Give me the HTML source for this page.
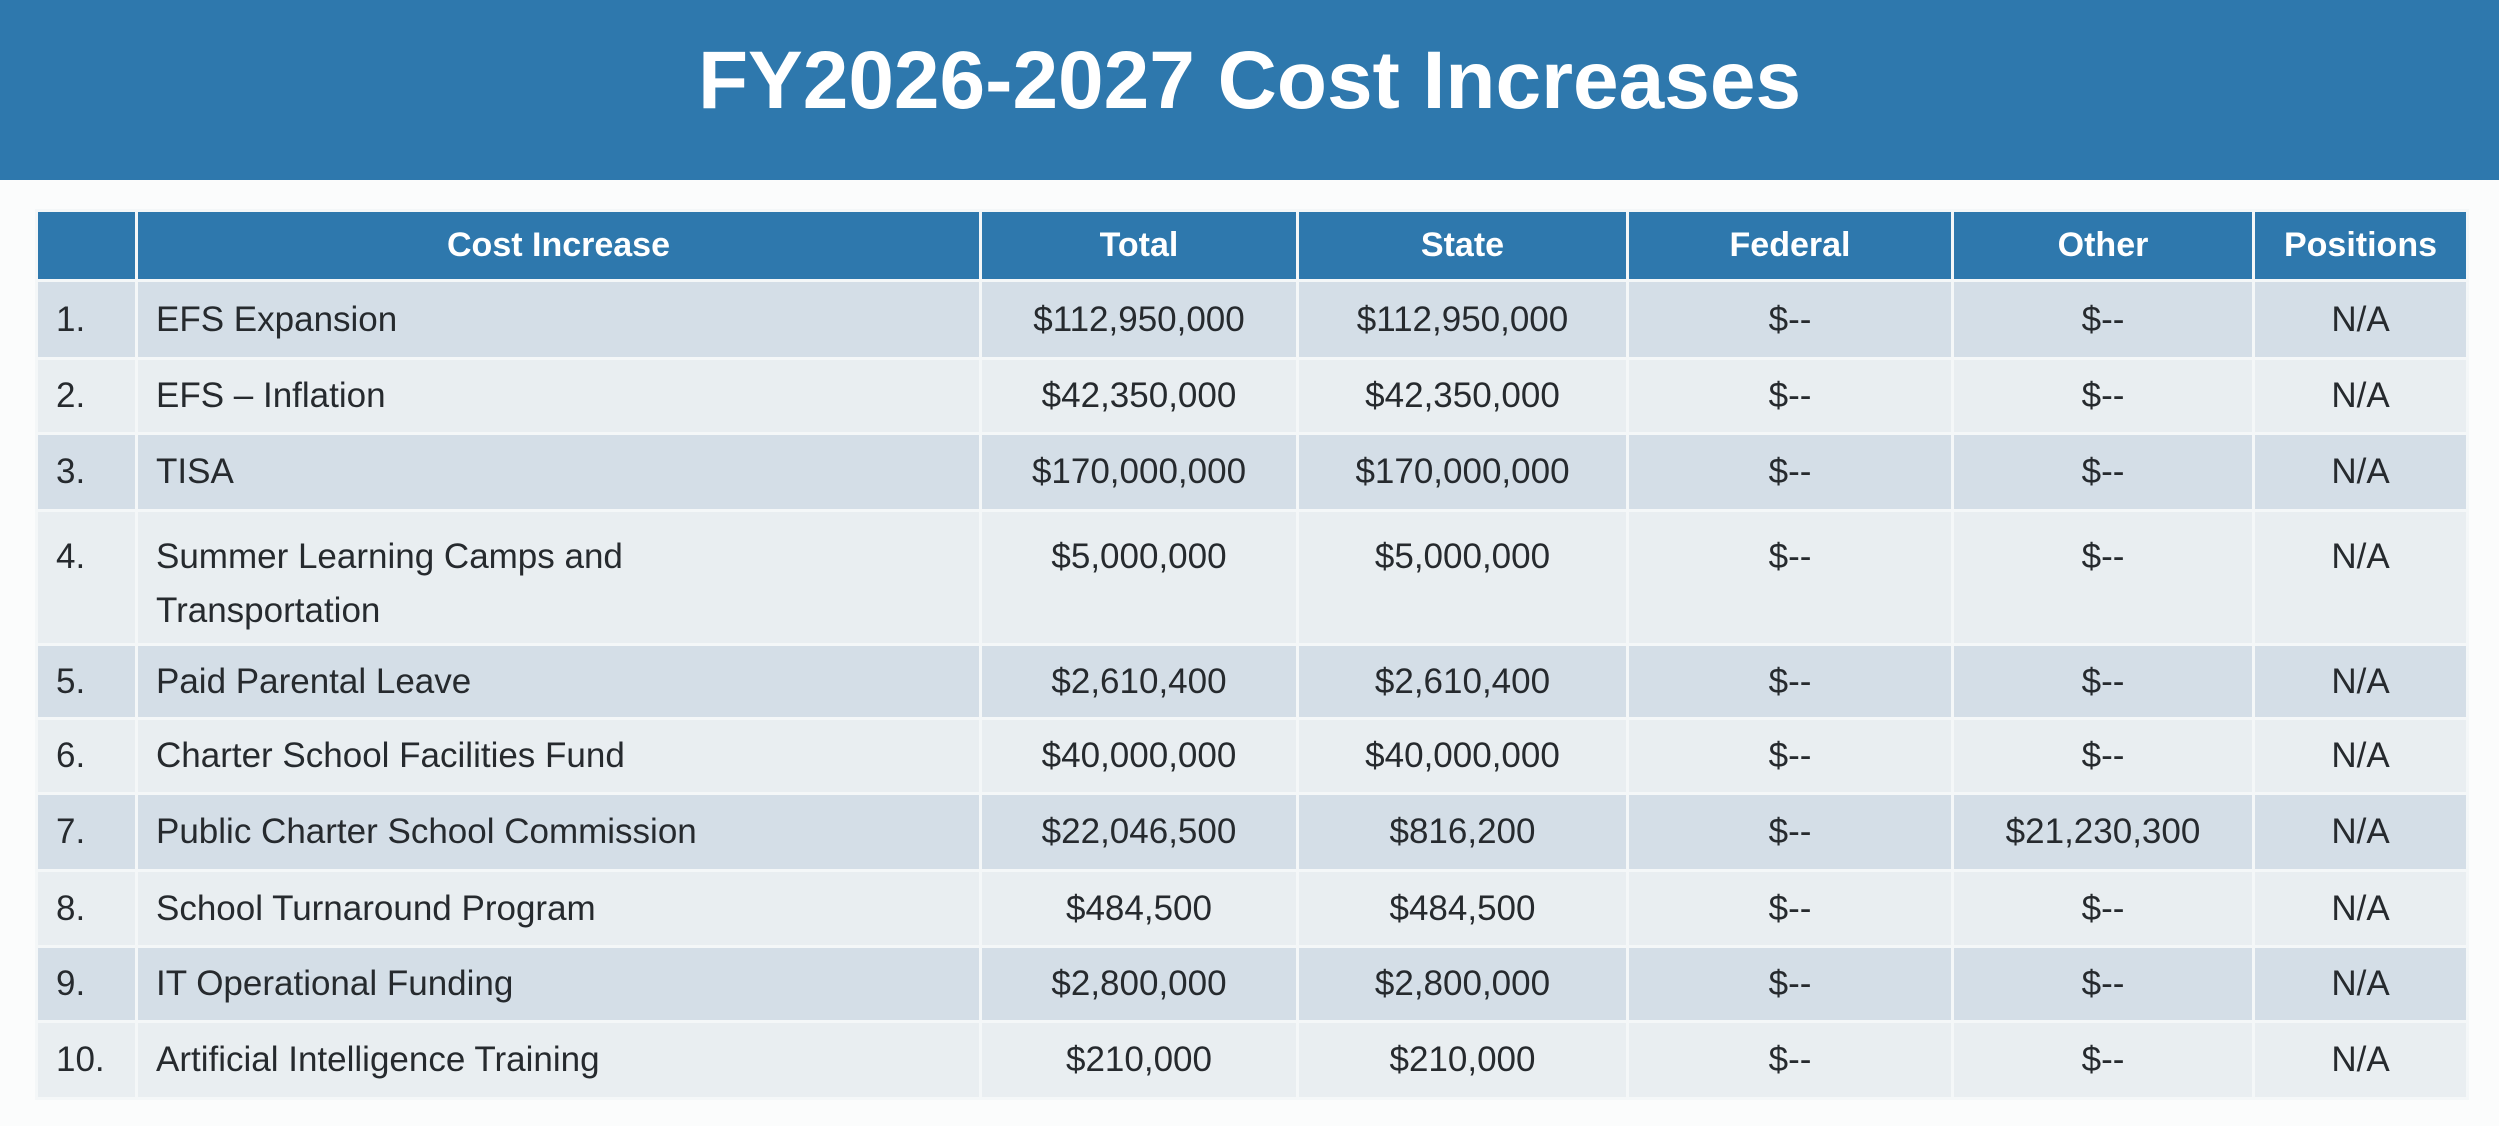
<!DOCTYPE html>
<html><head><meta charset="utf-8"><style>
html,body{margin:0;padding:0;width:2499px;height:1126px;overflow:hidden;background:#f5f7f8;font-family:"Liberation Sans",Arial,sans-serif;}
#hdr{position:absolute;left:0;top:0;width:2499px;height:180px;background:#2e78ad;}
#title{position:absolute;left:0;top:0;width:2499px;height:162px;line-height:162px;text-align:center;color:#fff;font-weight:bold;font-size:82px;}
#wrap{position:absolute;left:0;top:180px;width:2499px;height:946px;background:#fbfcfc;}
table{position:absolute;left:35px;top:209px;border-collapse:collapse;table-layout:fixed;}
td,th{border:3px solid #f4f7f8;padding:0;font-size:35px;color:#262a2e;}
th{background:#2e78ad;color:#fff;font-weight:bold;font-size:34px;text-align:center;height:67px;}
td{text-align:center;}
tr.o td{background:#d4dee7;}
tr.e td{background:#e9eef1;}
td.n{text-align:left;padding-left:18px;}
td.c{text-align:left;padding-left:18px;}
tr.tall td{vertical-align:top;padding-top:18px;line-height:54px;}
</style></head><body>
<div id="hdr"><div id="title">FY2026-2027 Cost Increases</div></div>
<div id="wrap"></div>
<table>
<colgroup><col style="width:100px"><col style="width:844px"><col style="width:317px"><col style="width:330px"><col style="width:325px"><col style="width:301px"><col style="width:214px"></colgroup>
<tr><th></th><th>Cost Increase</th><th>Total</th><th>State</th><th>Federal</th><th>Other</th><th>Positions</th></tr>
<tr class="o" style="height:78px"><td class="n">1.</td><td class="c">EFS Expansion</td><td>$112,950,000</td><td>$112,950,000</td><td>$--</td><td>$--</td><td>N/A</td></tr>
<tr class="e" style="height:75px"><td class="n">2.</td><td class="c">EFS – Inflation</td><td>$42,350,000</td><td>$42,350,000</td><td>$--</td><td>$--</td><td>N/A</td></tr>
<tr class="o" style="height:77px"><td class="n">3.</td><td class="c">TISA</td><td>$170,000,000</td><td>$170,000,000</td><td>$--</td><td>$--</td><td>N/A</td></tr>
<tr class="e tall" style="height:134px"><td class="n">4.</td><td class="c">Summer Learning Camps and<br>Transportation</td><td>$5,000,000</td><td>$5,000,000</td><td>$--</td><td>$--</td><td>N/A</td></tr>
<tr class="o" style="height:74px"><td class="n">5.</td><td class="c">Paid Parental Leave</td><td>$2,610,400</td><td>$2,610,400</td><td>$--</td><td>$--</td><td>N/A</td></tr>
<tr class="e" style="height:75px"><td class="n">6.</td><td class="c">Charter School Facilities Fund</td><td>$40,000,000</td><td>$40,000,000</td><td>$--</td><td>$--</td><td>N/A</td></tr>
<tr class="o" style="height:77px"><td class="n">7.</td><td class="c">Public Charter School Commission</td><td>$22,046,500</td><td>$816,200</td><td>$--</td><td>$21,230,300</td><td>N/A</td></tr>
<tr class="e" style="height:76px"><td class="n">8.</td><td class="c">School Turnaround Program</td><td>$484,500</td><td>$484,500</td><td>$--</td><td>$--</td><td>N/A</td></tr>
<tr class="o" style="height:75px"><td class="n">9.</td><td class="c">IT Operational Funding</td><td>$2,800,000</td><td>$2,800,000</td><td>$--</td><td>$--</td><td>N/A</td></tr>
<tr class="e" style="height:77px"><td class="n">10.</td><td class="c">Artificial Intelligence Training</td><td>$210,000</td><td>$210,000</td><td>$--</td><td>$--</td><td>N/A</td></tr>
</table>
</body></html>
